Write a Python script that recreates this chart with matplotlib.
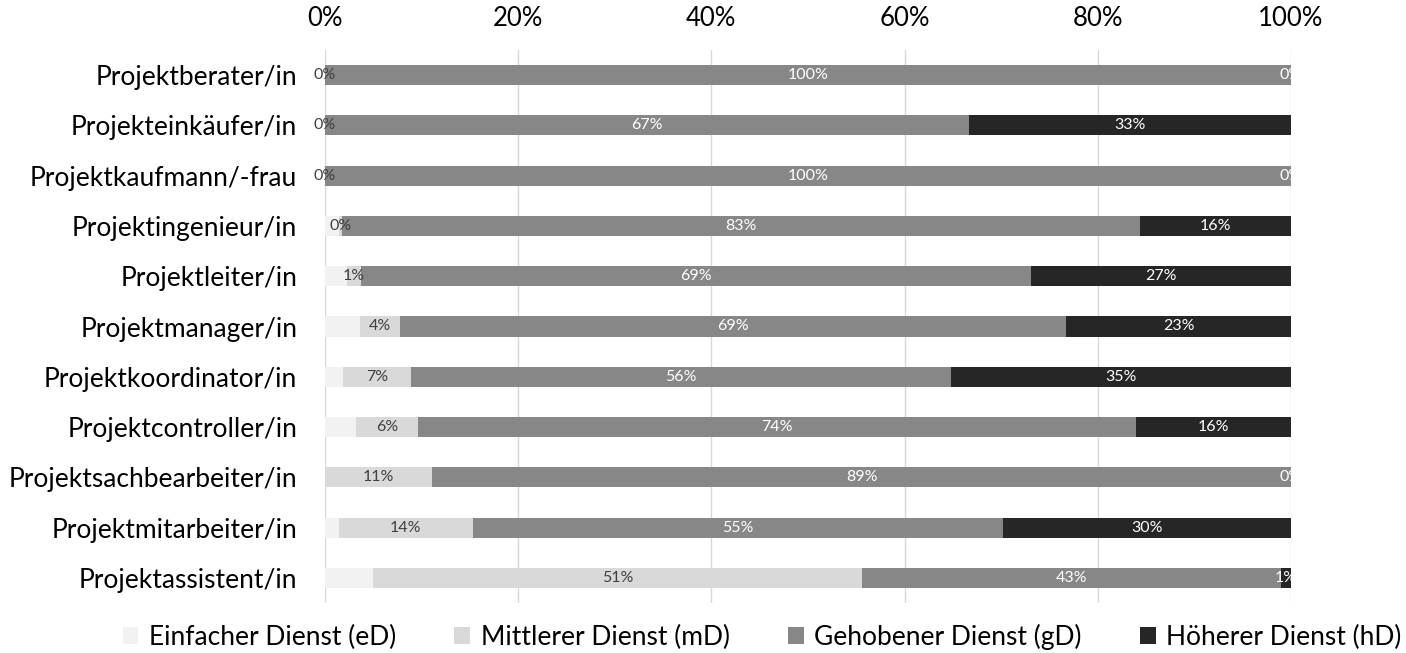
import matplotlib.pyplot as plt
import numpy as np

plt.rcParams['font.family'] = ['Lato', 'DejaVu Sans']

# ==================== Data ====================
categories = ['Projektberater/in', 'Projekteinkäufer/in', 'Projektkaufmann/-frau',
              'Projektingenieur/in', 'Projektleiter/in', 'Projektmanager/in',
              'Projektkoordinator/in', 'Projektcontroller/in',
              'Projektsachbearbeiter/in', 'Projektmitarbeiter/in', 'Projektassistent/in']

einfach = [0, 0, 0, 1.5, 2.3, 3.6, 1.9, 3.2, 0, 1.4, 5.0]
mittlerer = [0, 0, 0, 0.3, 1.4, 4.2, 7.0, 6.4, 11.1, 13.9, 50.6]
gehobener = [100, 66.7, 100, 82.6, 69.4, 68.9, 55.9, 74.4, 88.9, 54.9, 43.4]
hoeherer = [0, 33.3, 0, 15.6, 26.9, 23.3, 35.2, 16.0, 0, 29.8, 1.0]

series_names = ['Einfacher Dienst (eD)', 'Mittlerer Dienst (mD)',
                'Gehobener Dienst (gD)', 'Höherer Dienst (hD)']
x_ticks = [0, 20, 40, 60, 80, 100]

# Colours
COLORS = ['#F2F2F2', '#D9D9D9', '#878787', '#262626']
LABEL_COLORS = [None, '#404040', 'white', 'white']  # eD segments carry no label

fig = plt.figure(figsize=(14.06, 6.53), dpi=100)
ax = fig.add_axes([325 / 1406, 50 / 653, (1291 - 325) / 1406, (603 - 50) / 653])

y = np.arange(len(categories))
left = np.zeros(len(categories))
for k, vals in enumerate([einfach, mittlerer, gehobener, hoeherer]):
    vals = np.array(vals)
    ax.barh(y, vals, left=left, height=0.4, color=COLORS[k],
            label=series_names[k], zorder=2)
    if LABEL_COLORS[k] is not None:
        for yi, (l, v) in enumerate(zip(left, vals)):
            ax.text(l + v / 2, yi, f'{v:.0f}%', ha='center', va='center',
                    fontsize=11.5, color=LABEL_COLORS[k], zorder=3,
                    clip_on=(k == 3))
    left = left + vals

ax.set_xlim(0, 100)
ax.set_ylim(len(categories) - 0.5, -0.5)
ax.set_yticks(y)
ax.set_yticklabels(categories, fontsize=19)
ax.set_xticks(x_ticks)
ax.set_xticklabels([f'{t}%' for t in x_ticks], fontsize=18.5)
ax.xaxis.tick_top()
ax.tick_params(axis='both', length=0)
ax.tick_params(axis='x', pad=14)
ax.tick_params(axis='y', pad=20)

for s in ax.spines.values():
    s.set_visible(False)
ax.grid(True, axis='x', color='#D9D9D9', linewidth=1)
ax.set_axisbelow(True)

fig.legend(loc='center', bbox_to_anchor=(0.542, 0.025), ncol=4, frameon=False,
           fontsize=19, handlelength=0.6, handleheight=0.6,
           handletextpad=0.4, columnspacing=2.2)

fig.savefig('out.png', dpi=100, facecolor='white')
